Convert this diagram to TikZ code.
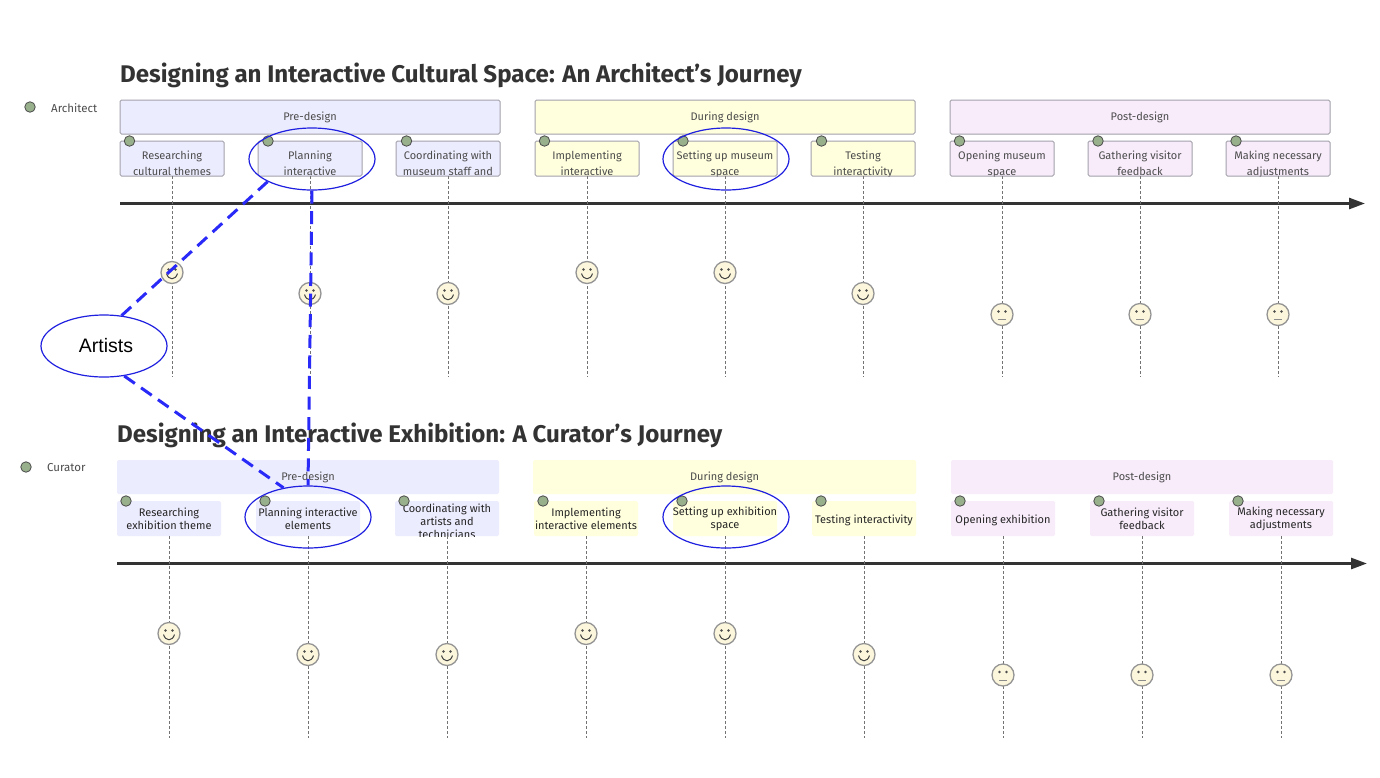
\documentclass[tikz,border=0pt]{standalone}
\usepackage{fontspec}
\setmainfont{Fira Sans}
\newfontfamily\arialfont{Liberation Sans}
\usepackage{tikz}
\usetikzlibrary{arrows.meta,shapes.geometric}
\definecolor{prefill}{HTML}{ECECFF}
\definecolor{durfill}{HTML}{FFFFDE}
\definecolor{postfill}{HTML}{F8ECFB}
\definecolor{boxline}{HTML}{A3A1AA}
\definecolor{dotgreen}{HTML}{98B08C}
\definecolor{facefill}{HTML}{FBF6DC}
\definecolor{circblue}{HTML}{1F1FE0}
\definecolor{dashblue}{HTML}{2A2AF8}
\tikzset{
  title/.style={anchor=west,inner sep=0,text=black!80,font=\fontsize{24.1}{28}\selectfont\bfseries},
  actor/.style={anchor=west,inner sep=0,text=black!70,font=\fontsize{11.5}{13}\selectfont},
  section/.style={inner sep=0,outer sep=0,rounded corners=1.5,minimum height=34,text height=8,text depth=1.5,text=black!70,font=\fontsize{11}{13}\selectfont},
  framed/.style={draw=boxline,line width=1},
  task/.style={minimum width=104,minimum height=35,inner sep=0,outer sep=0,rounded corners=1.5},
  textA/.style={align=center,inner sep=0,yshift=-4.5,text=black!70,font=\fontsize{11}{16}\selectfont},
  textB/.style={align=center,inner sep=0,text=black!85,font=\fontsize{11}{13}\selectfont},
  dot/.style={circle,draw=black!70,fill=dotgreen,line width=.8,minimum size=10.5,inner sep=0},
  stem/.style={draw=black!55,line width=.8,dash pattern=on 3 off 2},
  axis/.style={draw=black!80,line width=2.7,-{Triangle[length=16,width=11]}},
  face/.style={circle,draw=black!42,fill=facefill,line width=1.3,minimum size=22,inner sep=0},
  ring/.style={ellipse,draw=circblue,line width=1.2,minimum width=126,minimum height=62,inner sep=0},
  link/.style={draw=dashblue,line width=3,dash pattern=on 13 off 7.6},
}
\newcommand{\taskbox}[5]{\node[task,#3,path picture={\node[#4] at (path picture bounding box.center) {#5};}] (#1) at (#2) {};}
\newcommand{\facebits}[1]{%
  \fill[black!70] ([shift={(-3.5,-3)}]#1.center) circle (1.4);
  \fill[black!70] ([shift={(3.5,-3)}]#1.center) circle (1.4);}
\newcommand{\happyface}[2]{%
  \node[face] (#1) at (#2) {};
  \facebits{#1}
  \draw[black!75,line width=1] ([shift={(-5.5,1)}]#1.center) .. controls +(2,7) and +(-2,7) .. ([shift={(5.5,1)}]#1.center);}
\newcommand{\flatface}[2]{%
  \node[face] (#1) at (#2) {};
  \facebits{#1}
  \draw[black!45,line width=1] ([shift={(-4,5)}]#1.center) -- ([shift={(4,5)}]#1.center);}
\begin{document}
\begin{tikzpicture}[x=1pt,y=-1pt]
\useasboundingbox (0,0) rectangle (1380,777);
\fill[white] (0,0) rectangle (1380,777);
% first journey
\node[title] (titleA) at (120,75.5) {Designing an Interactive Cultural Space: An Architect's Journey};
\node[dot] (actorA) at (30,107) {};
\node[actor] (nameA) at (51,108) {Architect};
\node[section,framed,fill=prefill,minimum width=380] (preA) at (310,117) {Pre-design};
\node[section,framed,fill=durfill,minimum width=380] (durA) at (725,117) {During design};
\node[section,framed,fill=postfill,minimum width=380] (postA) at (1140,117) {Post-design};
\taskbox{taskA1}{172,158.5}{framed,fill=prefill}{textA}{Researching\\cultural themes}
\taskbox{taskA2}{310,158.5}{framed,fill=prefill}{textA}{Planning\\interactive}
\taskbox{taskA3}{448,158.5}{framed,fill=prefill}{textA}{Coordinating with\\museum staff and}
\taskbox{taskA4}{587,158.5}{framed,fill=durfill}{textA}{Implementing\\interactive}
\taskbox{taskA5}{725,158.5}{framed,fill=durfill}{textA,yshift=-1}{Setting up museum\\space}
\taskbox{taskA6}{863,158.5}{framed,fill=durfill}{textA,yshift=-1}{Testing\\interactivity}
\taskbox{taskA7}{1002,158.5}{framed,fill=postfill}{textA,yshift=-1}{Opening museum\\space}
\taskbox{taskA8}{1140,158.5}{framed,fill=postfill}{textA}{Gathering visitor\\feedback}
\taskbox{taskA9}{1278,158.5}{framed,fill=postfill}{textA,yshift=-1}{Making necessary\\adjustments}
\node[dot] (dotA1) at (129.5,141) {};
\node[dot] (dotA2) at (268,141) {};
\node[dot] (dotA3) at (406.5,141) {};
\node[dot] (dotA4) at (544.5,141) {};
\node[dot] (dotA5) at (683,141) {};
\node[dot] (dotA6) at (821.5,141) {};
\node[dot] (dotA7) at (959.5,141) {};
\node[dot] (dotA8) at (1098,141) {};
\node[dot] (dotA9) at (1236,141) {};
\coordinate (axisA) at (120,203.5);
\coordinate (axisAend) at (1365,203.5);
\draw[axis] (axisA) -- (axisAend);
\coordinate (endA1) at (172,377);
\coordinate (endA2) at (310,377);
\coordinate (endA3) at (448,377);
\coordinate (endA4) at (587,377);
\coordinate (endA5) at (725,377);
\coordinate (endA6) at (863,377);
\coordinate (endA7) at (1002,377);
\coordinate (endA8) at (1140,377);
\coordinate (endA9) at (1278,377);
\draw[stem] (taskA1) -- (endA1);
\draw[stem] (taskA2) -- (endA2);
\draw[stem] (taskA3) -- (endA3);
\draw[stem] (taskA4) -- (endA4);
\draw[stem] (taskA5) -- (endA5);
\draw[stem] (taskA6) -- (endA6);
\draw[stem] (taskA7) -- (endA7);
\draw[stem] (taskA8) -- (endA8);
\draw[stem] (taskA9) -- (endA9);
\happyface{faceA1}{172,272.5}
\happyface{faceA2}{310,293.5}
\happyface{faceA3}{448,293.5}
\happyface{faceA4}{587,272.5}
\happyface{faceA5}{725,272.5}
\happyface{faceA6}{863,293.5}
\flatface{faceA7}{1002,314.5}
\flatface{faceA8}{1140,314.5}
\flatface{faceA9}{1278,314.5}
% second journey
\node[title] (titleB) at (117,435.5) {Designing an Interactive Exhibition: A Curator's Journey};
\node[dot] (actorB) at (26,467) {};
\node[actor] (nameB) at (47,468) {Curator};
\node[section,fill=prefill,minimum width=382] (preB) at (308,477) {Pre-design};
\node[section,fill=durfill,minimum width=383] (durB) at (724.5,477) {During design};
\node[section,fill=postfill,minimum width=382] (postB) at (1142,477) {Post-design};
\taskbox{taskB1}{169,518.5}{fill=prefill}{textB}{Researching\\exhibition theme}
\taskbox{taskB2}{308,518.5}{fill=prefill}{textB}{Planning interactive\\elements}
\taskbox{taskB3}{447,518.5}{fill=prefill}{textB,yshift=-3}{Coordinating with\\artists and\\technicians}
\taskbox{taskB4}{586,518.5}{fill=durfill}{textB}{Implementing\\interactive elements}
\taskbox{taskB5}{725,518.5}{fill=durfill}{textB}{Setting up exhibition\\space}
\taskbox{taskB6}{864,518.5}{fill=durfill}{textB,yshift=-2}{Testing interactivity}
\taskbox{taskB7}{1003,518.5}{fill=postfill}{textB,yshift=-2}{Opening exhibition}
\taskbox{taskB8}{1142,518.5}{fill=postfill}{textB}{Gathering visitor\\feedback}
\taskbox{taskB9}{1281,518.5}{fill=postfill}{textB}{Making necessary\\adjustments}
\node[dot] (dotB1) at (126,501) {};
\node[dot] (dotB2) at (265,501) {};
\node[dot] (dotB3) at (404,501) {};
\node[dot] (dotB4) at (543,501) {};
\node[dot] (dotB5) at (682,501) {};
\node[dot] (dotB6) at (821,501) {};
\node[dot] (dotB7) at (960,501) {};
\node[dot] (dotB8) at (1099,501) {};
\node[dot] (dotB9) at (1238,501) {};
\coordinate (axisB) at (117,563.5);
\coordinate (axisBend) at (1367,563.5);
\draw[axis] (axisB) -- (axisBend);
\coordinate (endB1) at (169,738);
\coordinate (endB2) at (308,738);
\coordinate (endB3) at (447,738);
\coordinate (endB4) at (586,738);
\coordinate (endB5) at (725,738);
\coordinate (endB6) at (864,738);
\coordinate (endB7) at (1003,738);
\coordinate (endB8) at (1142,738);
\coordinate (endB9) at (1281,738);
\draw[stem] (taskB1) -- (endB1);
\draw[stem] (taskB2) -- (endB2);
\draw[stem] (taskB3) -- (endB3);
\draw[stem] (taskB4) -- (endB4);
\draw[stem] (taskB5) -- (endB5);
\draw[stem] (taskB6) -- (endB6);
\draw[stem] (taskB7) -- (endB7);
\draw[stem] (taskB8) -- (endB8);
\draw[stem] (taskB9) -- (endB9);
\happyface{faceB1}{169,633.5}
\happyface{faceB2}{308,654.5}
\happyface{faceB3}{447,654.5}
\happyface{faceB4}{586,633.5}
\happyface{faceB5}{725,633.5}
\happyface{faceB6}{864,654.5}
\flatface{faceB7}{1003,675}
\flatface{faceB8}{1142,675}
\flatface{faceB9}{1281,675}
% artists overlay
\node[ring] (ringA) at (312,159) {};
\node[ring] (ringC) at (726,159) {};
\node[ring] (ringB) at (308,517) {};
\node[ring] (ringD) at (726,517) {};
\node[ring,font=\arialfont\fontsize{19.5}{22}\selectfont] (artists) at (104,346) {\hspace*{4pt}Artists};
\draw[link] (artists.60) -- (ringA.207);
\draw[link] (artists.304) -- (ringB.130);
\draw[link] (ringA.south) -- (ringB.north);
\end{tikzpicture}
\end{document}
